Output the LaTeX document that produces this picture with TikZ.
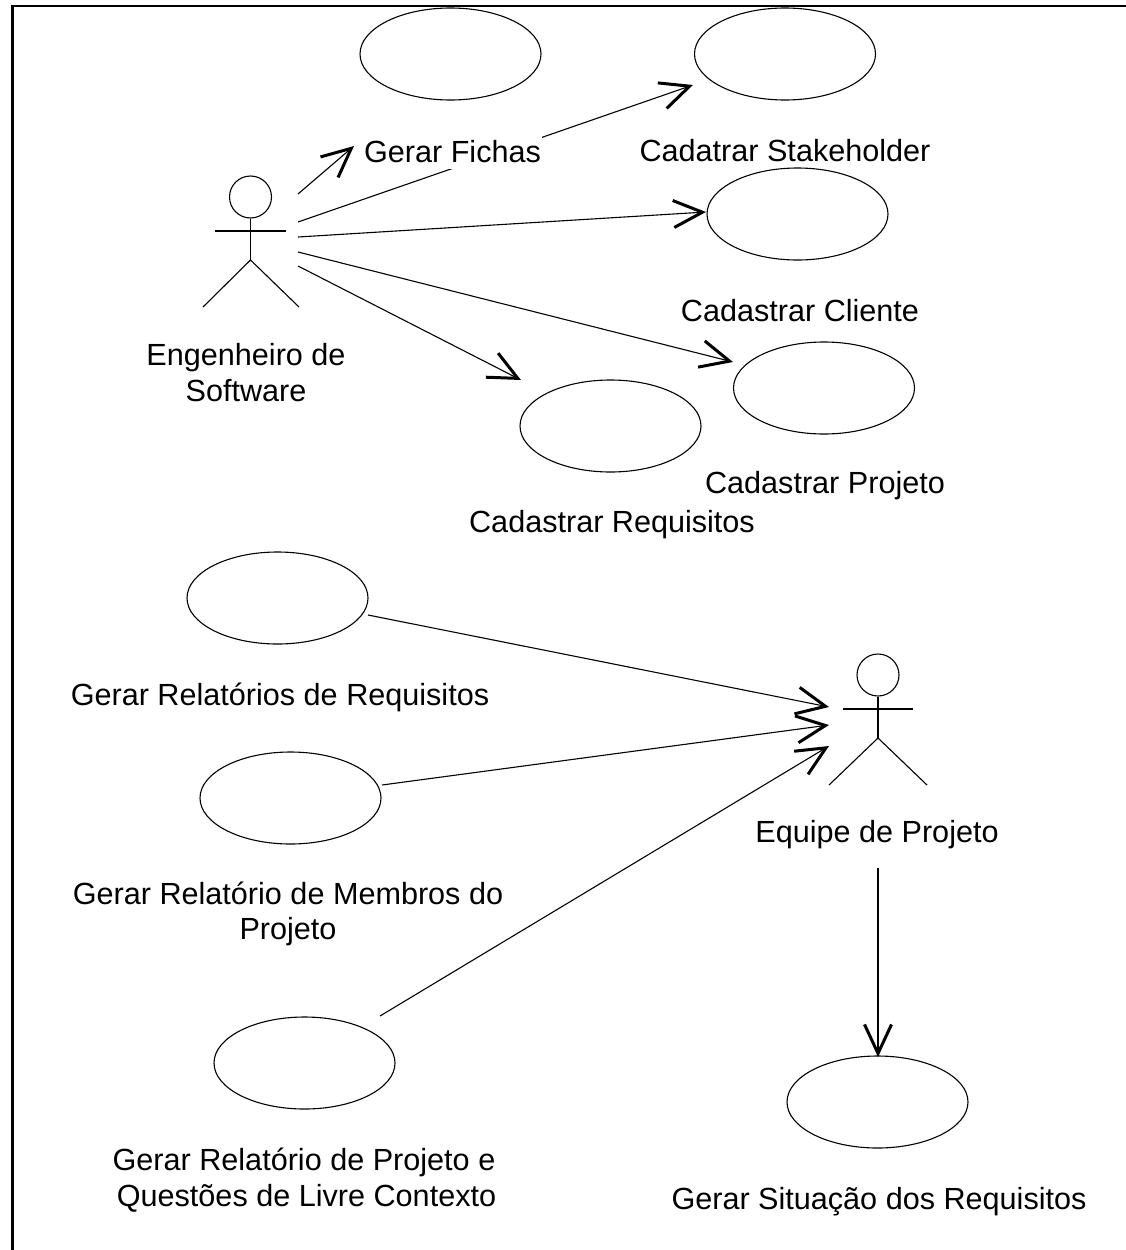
\documentclass[tikz,border=0pt]{standalone}
\usepackage{fontspec}
\setmainfont{Liberation Sans}
\usetikzlibrary{shapes.geometric,arrows.meta}
\tikzset{
  usecase/.style={draw=black,shape=ellipse,minimum width=181pt,minimum height=92pt,inner sep=0pt,line width=1.1pt},
  lbl/.style={inner sep=0pt,align=center,font=\fontsize{30.6}{35.5}\selectfont,text=black},
  head/.style={draw=black,shape=circle,minimum size=42pt,inner sep=0pt,line width=1.1pt},
  limb/.style={draw=black,line width=1.1pt},
  conn/.style={draw=black,line width=1.1pt,-{Straight Barb[length=29pt,width=27pt,line width=3pt]}},
  frameline/.style={draw=black,line width=2.4pt,line cap=butt}
}
\begin{document}
\begin{tikzpicture}[x=1pt,y=-1pt]
\useasboundingbox (0,0) rectangle (1126,1250);
\fill[white] (0,0) rectangle (1126,1250);
\coordinate (fa) at (1126,6);
\coordinate (fb) at (12.5,6);
\coordinate (fc) at (12.5,1250);
\draw[frameline] (fa) -- (fb) -- (fc);

% use cases
\node[usecase] (u1) at (450.5,54) {};
\node[usecase] (u2) at (785,54) {};
\node[usecase] (u3) at (797.5,214) {};
\node[usecase] (u4) at (824,388) {};
\node[usecase] (u5) at (610.5,426) {};
\node[usecase] (u6) at (277.5,598) {};
\node[usecase] (u7) at (290.5,798) {};
\node[usecase] (u8) at (304.5,1063) {};
\node[usecase] (u9) at (877.5,1102) {};

% actor 1
\node[head] (h1) at (250.5,197) {};
\coordinate (h1arml) at (215,231);
\coordinate (h1armr) at (286,231);
\coordinate (h1hip) at (250.5,260);
\coordinate (h1legl) at (203,307);
\coordinate (h1legr) at (299,307);
\draw[limb] (h1.south) -- (h1hip);
\draw[limb] (h1arml) -- (h1armr);
\draw[limb] (h1legl) -- (h1hip) -- (h1legr);

% actor 2
\node[head] (h2) at (878,675) {};
\coordinate (h2arml) at (843,709);
\coordinate (h2armr) at (913,709);
\coordinate (h2hip) at (878,738);
\coordinate (h2legl) at (829,785);
\coordinate (h2legr) at (927,785);
\draw[limb] (h2.south) -- (h2hip);
\draw[limb] (h2arml) -- (h2armr);
\draw[limb] (h2legl) -- (h2hip) -- (h2legr);

% connector ends
\coordinate (a1) at (298,194); \coordinate (b1) at (354,146);
\coordinate (a2) at (298,222); \coordinate (b2) at (693,85);
\coordinate (a3) at (298,237); \coordinate (b3) at (706,212);
\coordinate (a4) at (298,252); \coordinate (b4) at (733,362);
\coordinate (a5) at (298,266); \coordinate (b5) at (521,380);
\coordinate (a6) at (368,615); \coordinate (b6) at (829,707);
\coordinate (a7) at (382,785); \coordinate (b7) at (829,725);
\coordinate (a8) at (380,1016); \coordinate (b8) at (829,746);
\coordinate (a9) at (878,868); \coordinate (b9) at (878,1057);
\draw[conn] (a1) -- (b1);
\draw[conn] (a2) -- (b2);
\draw[conn] (a3) -- (b3);
\draw[conn] (a4) -- (b4);
\draw[conn] (a5) -- (b5);
\draw[conn] (a6) -- (b6);
\draw[conn] (a7) -- (b7);
\draw[conn] (a8) -- (b8);
\draw[conn] (a9) -- (b9);

% labels
\node[lbl,fill=white,minimum width=178pt,minimum height=34pt] (t1) at (452.5,152) {Gerar Fichas};
\node[lbl] (t2) at (785,151) {Cadatrar Stakeholder};
\node[lbl] (t3) at (800,311) {Cadastrar Cliente};
\node[lbl] (t4) at (825,486) {Cadastrar Projeto};
\node[lbl] (t5) at (612,525) {Cadastrar Requisitos};
\node[lbl] (t6) at (246,372.5) {Engenheiro de\\Software};
\node[lbl] (t7) at (280,697) {Gerar Relatórios de Requisitos};
\node[lbl] (t8) at (288,914) {Gerar Relatório de Membros do\\Projeto};
\node[lbl] (t9) at (877,835) {Equipe de Projeto};
\node[lbl] (t10) at (304,1180) {Gerar Relatório de Projeto e\\\hspace*{5pt}Questões de Livre Contexto};
\node[lbl] (t11) at (879,1202) {Gerar Situação dos Requisitos};
\end{tikzpicture}
\end{document}
